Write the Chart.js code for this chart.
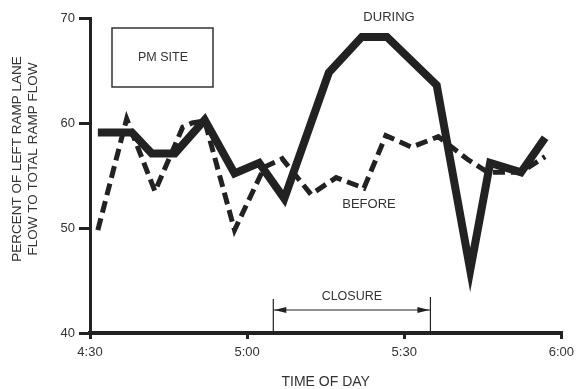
<!DOCTYPE html>
<html>
<head>
<meta charset="utf-8">
<script src="https://cdn.jsdelivr.net/npm/chart.js@4"></script>
<style>
  html, body { margin: 0; padding: 0; background: #fff; }
  #wrap { width: 580px; height: 389px; }
</style>
</head>
<body>
<div id="wrap"><canvas id="rampChart" width="580" height="389"></canvas></div>
<script>
// minutes after 4:30 pm
const tickLabels = ['4:30', '5:00', '5:30', '6:00'];

const duringMinutes = [1.5, 8, 11.8, 16.2, 21.9, 27.6, 32.3, 37.1, 45.6, 51.9, 56.7, 66.2, 72.6, 76.4, 82.3, 86.9];
const duringValues  = [59.1, 59.1, 57.1, 57.1, 60.3, 55.2, 56.2, 52.8, 64.8, 68.2, 68.2, 63.6, 46.0, 56.2, 55.3, 58.6];

const beforeMinutes = [1.5, 7.0, 12.4, 17.7, 19.5, 21.9, 27.6, 33.3, 36.7, 42.2, 47.0, 52.3, 56.5, 61.4, 66.5, 72.2, 76.0, 82.3, 86.9];
const beforeValues  = [49.8, 60.4, 53.5, 59.6, 60.0, 60.2, 49.8, 55.8, 56.6, 53.2, 54.8, 53.8, 58.8, 57.7, 58.7, 56.5, 55.3, 55.3, 56.8];

const closureStart = 35;
const closureEnd = 65;

const fontFam = '"Liberation Sans", Arial, sans-serif';
const ink = '#222';

function toPoints(xs, ys) {
    return xs.map((x, i) => ({ x: x, y: ys[i] }));
}

const annotations = {
    id: 'annotations',
    afterDraw(chart) {
        const ctx = chart.ctx;
        const xs = chart.scales.x;
        ctx.save();
        ctx.fillStyle = '#333';
        ctx.textAlign = 'center';
        ctx.textBaseline = 'middle';

        // y title, two rotated lines
        ctx.save();
        ctx.translate(17, 159);
        ctx.rotate(-Math.PI / 2);
        ctx.font = '13.5px ' + fontFam;
        ctx.fillText('PERCENT OF LEFT RAMP LANE', 0, 0);
        ctx.fillText('FLOW TO TOTAL RAMP FLOW', 0, 16);
        ctx.restore();

        // PM SITE box
        ctx.strokeStyle = '#333';
        ctx.lineWidth = 1.5;
        ctx.strokeRect(112, 28, 101, 59);
        ctx.font = '12.5px ' + fontFam;
        ctx.fillText('PM SITE', 163, 58);

        ctx.font = '13px ' + fontFam;
        ctx.fillText('DURING', 389, 17);
        ctx.fillText('BEFORE', 369, 204);

        // closure bracket
        const x1 = xs.getPixelForValue(closureStart);
        const x2 = xs.getPixelForValue(closureEnd);
        const yb = chart.chartArea.bottom;
        ctx.strokeStyle = ink;
        ctx.lineWidth = 1.2;
        ctx.beginPath();
        ctx.moveTo(x1, yb); ctx.lineTo(x1, yb - 34);
        ctx.moveTo(x2, yb); ctx.lineTo(x2, yb - 36);
        ctx.moveTo(x1, yb - 23); ctx.lineTo(x2, yb - 23);
        ctx.stroke();
        ctx.fillStyle = ink;
        ctx.beginPath();
        ctx.moveTo(x1 + 1, yb - 23); ctx.lineTo(x1 + 13, yb - 26); ctx.lineTo(x1 + 13, yb - 20); ctx.closePath();
        ctx.moveTo(x2 - 1, yb - 23); ctx.lineTo(x2 - 13, yb - 26); ctx.lineTo(x2 - 13, yb - 20); ctx.closePath();
        ctx.fill();
        ctx.fillStyle = '#333';
        ctx.font = '12.5px ' + fontFam;
        ctx.fillText('CLOSURE', (x1 + x2) / 2, yb - 36);

        ctx.font = '14px ' + fontFam;
        ctx.fillText('TIME OF DAY', (chart.chartArea.left + chart.chartArea.right) / 2, 382);
        ctx.restore();
    }
};

new Chart(document.getElementById('rampChart').getContext('2d'), {
    type: 'scatter',
    data: {
        datasets: [{
            label: 'During',
            data: toPoints(duringMinutes, duringValues),
            showLine: true,
            borderColor: ink,
            borderWidth: 8,
            borderJoinStyle: 'miter',
            pointRadius: 0,
            tension: 0
        }, {
            label: 'Before',
            data: toPoints(beforeMinutes, beforeValues),
            showLine: true,
            borderColor: ink,
            borderWidth: 5,
            borderDash: [12, 6],
            borderJoinStyle: 'miter',
            pointRadius: 0,
            tension: 0
        }]
    },
    options: {
        responsive: false,
        animation: false,
        layout: { padding: { left: 0, top: 18, right: 17, bottom: 0 } },
        plugins: { legend: { display: false }, tooltip: { enabled: false } },
        scales: {
            x: {
                type: 'linear',
                min: 0, max: 90,
                afterFit(scale) { scale.height = 56; },
                border: { display: true, color: ink, width: 4 },
                grid: { display: true, drawOnChartArea: false, drawTicks: true, tickLength: 6, lineWidth: 3, color: ink },
                ticks: {
                    stepSize: 30,
                    padding: 6,
                    color: '#333',
                    font: { family: fontFam, size: 13 },
                    callback: (v) => tickLabels[v / 30]
                }
            },
            y: {
                min: 40, max: 70,
                afterFit(scale) { scale.width = 90; },
                border: { display: true, color: ink, width: 3 },
                grid: { display: true, drawOnChartArea: false, drawTicks: true, tickLength: 11, lineWidth: 3, color: ink },
                ticks: {
                    stepSize: 10,
                    padding: 4,
                    color: '#333',
                    font: { family: fontFam, size: 13 }
                }
            }
        }
    },
    plugins: [annotations]
});
</script>
</body>
</html>
